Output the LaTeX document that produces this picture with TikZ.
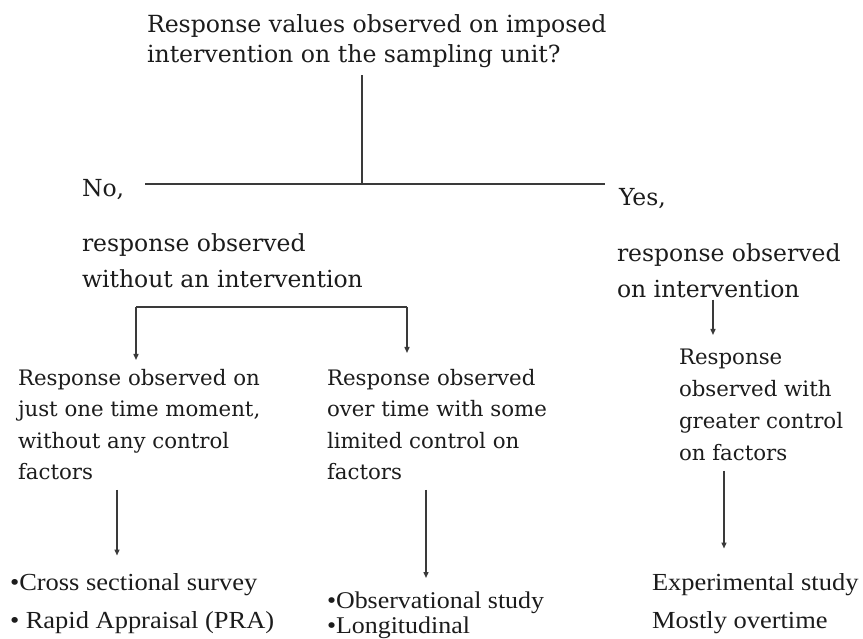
\documentclass[tikz,border=0pt]{standalone}
\usepackage{fontspec}
\newfontfamily\dvserif{DejaVu Serif}
\newfontfamily\lserif[FakeStretch=1.08]{Liberation Serif}
\usetikzlibrary{arrows.meta}
\definecolor{ink}{HTML}{1C1C1C}
\definecolor{wire}{HTML}{3A3A3A}
\begin{document}
\begin{tikzpicture}[x=1pt,y=-1pt,
  txt/.style={inner sep=0pt,outer sep=0pt,anchor=north west,align=left,text=ink},
  big/.style={txt,font=\dvserif\fontsize{23.5}{35.5}\selectfont},
  mid/.style={txt,font=\dvserif\fontsize{21.3}{31.5}\selectfont},
  lst/.style={txt,font=\lserif\fontsize{24.5}{38}\selectfont},
  wireline/.style={draw=wire,line width=1.4pt},
  arr/.style={wireline,-{Triangle[length=6pt,width=5pt]}}]
\fill[white] (0,0) rectangle (863,639);
\useasboundingbox (0,0) rectangle (863,639);

\node[big,font=\dvserif\fontsize{23.6}{30}\selectfont] (q) at (147,15) {Response values observed on imposed\\intervention on the sampling unit?};
\node[big] (no) at (82,179) {No,};
\node[big] (yes) at (619,188) {Yes,};
\node[big] (nresp) at (82,234) {response observed\\without an intervention};
\node[big] (yresp) at (617,244) {response observed\\on intervention};

\node[mid] (lbox) at (18,369) {Response observed on\\just one time moment,\\without any control\\factors};
\node[mid] (mbox) at (327,369) {Response observed\\over time with some\\limited control on\\factors};
\node[mid,font=\dvserif\fontsize{21.3}{32}\selectfont] (rbox) at (679,349) {Response\\observed with\\greater control\\on factors};

\node[lst] (llist) at (10,573.5) {•Cross sectional survey\\• Rapid Appraisal (PRA)};
\node[lst,font=\lserif\fontsize{24}{25}\selectfont] (mlist) at (327,592) {•Observational study\\•Longitudinal};
\node[lst] (rlist) at (652,573.5) {Experimental study\\Mostly overtime};

% top tree
\coordinate (hL) at (145,184);
\coordinate (hM) at (362,184);
\coordinate (hR) at (605,184);
\draw[wireline] (hM |- q.south) ++(0,7) -- (hM);
\draw[wireline] (hL) -- (hR);

% bracket under "No"
\coordinate (bL) at (136,307);
\coordinate (bR) at (407,307);
\draw[wireline] (bL) -- (bR);
\draw[arr] (bL) -- ([yshift=9pt]lbox.north -| bL);
\draw[arr] (bR) -- ([yshift=16pt]mbox.north -| bR);

% right branch
\coordinate (xr) at (713,0);
\draw[arr] ([yshift=-2pt]yresp.south -| xr) -- ([yshift=14pt]rbox.north -| xr);

% lower arrows
\coordinate (x1) at (117,0);
\coordinate (x2) at (426,0);
\coordinate (x3) at (724,0);
\draw[arr] ([yshift=-10pt]lbox.south -| x1) -- ([yshift=18pt]llist.north -| x1);
\draw[arr] ([yshift=-10pt]mbox.south -| x2) -- ([yshift=14pt]mlist.north -| x2);
\draw[arr] ([yshift=-10pt]rbox.south -| x3) -- ([yshift=25pt]rlist.north -| x3);
\end{tikzpicture}
\end{document}
